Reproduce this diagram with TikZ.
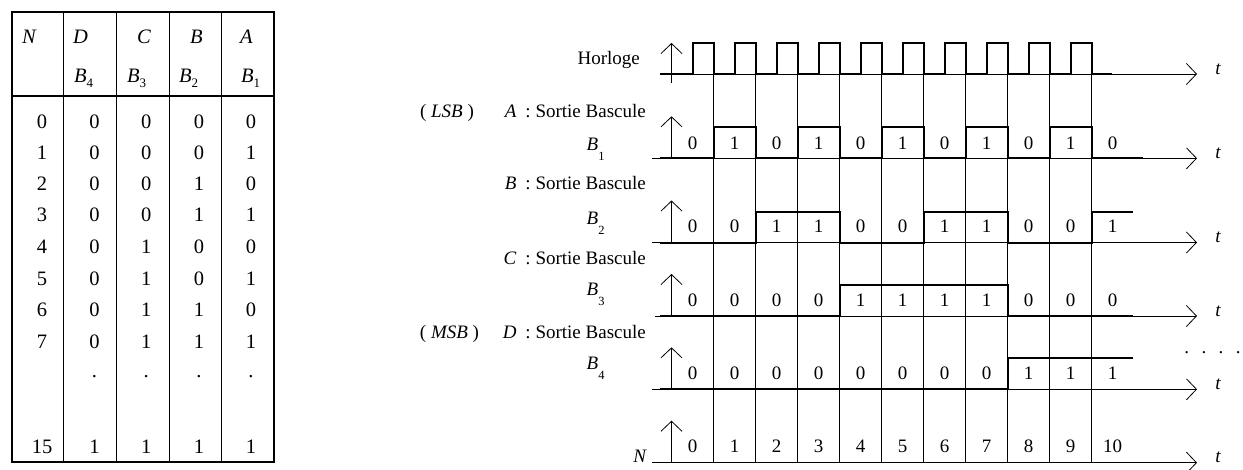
\documentclass[tikz,border=0pt]{standalone}
\usepackage{fontspec}
\setmainfont{Liberation Serif}
\usetikzlibrary{arrows.meta}
\newcommand\tsubl[1]{\raisebox{-10pt}{\fontsize{12.5pt}{13pt}\selectfont #1}}
\newcommand\hsubl[1]{\raisebox{-5pt}{\fontsize{13pt}{14pt}\selectfont #1}}
\tikzset{
  txt/.style={inner sep=0pt, font=\fontsize{19pt}{22pt}\selectfont},
  tabtxt/.style={inner sep=0pt, font=\fontsize{20.5pt}{23pt}\selectfont},
  thinline/.style={line width=0.8pt},
  sigline/.style={line width=2pt, line join=miter},
  axarrow/.style={line width=0.8pt, -{Straight Barb[length=10pt,width=21pt,line width=0.8pt]}},
  gridline/.style={line width=0.8pt},
  tabframe/.style={line width=1.3pt},
}
\begin{document}
\begin{tikzpicture}[x=1pt,y=-1pt]
\useasboundingbox (0,0) rectangle (1243,469);
% ---------------- table ----------------
\draw[tabframe] (12,12) rectangle (274,462);
\draw[tabframe] (12,96) -- (274,96);
\foreach \x in {63,116,169,221} \draw[thinline] (\x,12) -- (\x,462);
\node[tabtxt,anchor=base west] (hN) at (22,43) {\textit{N}};
\node[tabtxt,anchor=base west] (hD) at (73,43) {\textit{D}};
\node[tabtxt,anchor=base west] (hC) at (137,43) {\textit{C}};
\node[tabtxt,anchor=base west] (hB) at (190,43) {\textit{B}};
\node[tabtxt,anchor=base west] (hA) at (240,43) {\textit{A}};
\node[tabtxt,anchor=base west] (hB4) at (74,82.5) {\textit{B}\hsubl{4}};
\node[tabtxt,anchor=base west] (hB3) at (127,82.5) {\textit{B}\hsubl{3}};
\node[tabtxt,anchor=base west] (hB2) at (179,82.5) {\textit{B}\hsubl{2}};
\node[tabtxt,anchor=base west] (hB1) at (241,82.5) {\textit{B}\hsubl{1}};
\foreach \y/\n/\d/\c/\b/\a [count=\i] in
  {121.5/0/0/0/0/0, 153/1/0/0/0/1, 184/2/0/0/1/0, 215/3/0/0/1/1,
   247/4/0/1/0/0, 278.5/5/0/1/0/1, 310/6/0/1/1/0, 342/7/0/1/1/1, 447/15/1/1/1/1}
{
  \node[tabtxt] (tn\i) at (42,\y) {\n};
  \node[tabtxt] (td\i) at (94.5,\y) {\d};
  \node[tabtxt] (tc\i) at (146.3,\y) {\c};
  \node[tabtxt] (tb\i) at (199,\y) {\b};
  \node[tabtxt] (ta\i) at (251,\y) {\a};
}
\foreach \x [count=\i] in {94.5,146.3,199,251}
  \node[tabtxt] (tdot\i) at (\x,377) {.};
% ---------------- timing diagram ----------------
% grid
\foreach \k in {0,...,9}
  \draw[gridline] ({713.5+42*\k},74) -- ({713.5+42*\k},462.7);
% horizontal axes
\foreach \yy/\xs/\nm in {74/660/clk,158.3/652/bone,242.5/652/btwo,316/655/bthree,389.3/652/bfour,462.7/652/nrow}
{
  \coordinate (\nm s) at (\xs,\yy);
  \coordinate (\nm e) at (1197,\yy);
  \draw[axarrow] (\nm s) -- (\nm e);
  \node[txt,anchor=base] (\nm t) at (1218.3,\yy) {\textit{t}};
}
% vertical arrows
\coordinate (va0) at (671.5,83);
\coordinate (vb0) at (671.5,43);
\draw[axarrow] (va0) -- (vb0);
\foreach \yy/\nm in {158.3/1,242.5/2,316/3,389.3/4,462.7/5}
{
  \coordinate (va\nm) at (671.5,\yy);
  \coordinate (vb\nm) at (671.5,\yy-42);
  \draw[axarrow] (va\nm) -- (vb\nm);
}
% clock trace
\draw[sigline] (660,74)
  -- (692.5,74) -- (692.5,42.7) -- (713.5,42.7) -- (713.5,74)
  -- (734.5,74) -- (734.5,42.7) -- (755.5,42.7) -- (755.5,74)
  -- (776.5,74) -- (776.5,42.7) -- (797.5,42.7) -- (797.5,74)
  -- (818.5,74) -- (818.5,42.7) -- (839.5,42.7) -- (839.5,74)
  -- (860.5,74) -- (860.5,42.7) -- (881.5,42.7) -- (881.5,74)
  -- (902.5,74) -- (902.5,42.7) -- (923.5,42.7) -- (923.5,74)
  -- (944.5,74) -- (944.5,42.7) -- (965.5,42.7) -- (965.5,74)
  -- (986.5,74) -- (986.5,42.7) -- (1007.5,42.7) -- (1007.5,74)
  -- (1028.5,74) -- (1028.5,42.7) -- (1049.5,42.7) -- (1049.5,74)
  -- (1070.5,74) -- (1070.5,42.7) -- (1091.5,42.7) -- (1091.5,74)
  -- (1111.7,74);
% B1
\draw[sigline] (660,158.3)
  -- (713.5,158.3) -- (713.5,127.3) -- (755.5,127.3) -- (755.5,158.3)
  -- (797.5,158.3) -- (797.5,127.3) -- (839.5,127.3) -- (839.5,158.3)
  -- (881.5,158.3) -- (881.5,127.3) -- (923.5,127.3) -- (923.5,158.3)
  -- (965.5,158.3) -- (965.5,127.3) -- (1007.5,127.3) -- (1007.5,158.3)
  -- (1049.5,158.3) -- (1049.5,127.3) -- (1091.5,127.3) -- (1091.5,158.3)
  -- (1143.3,158.3);
% B2
\draw[sigline] (660,242.5) -- (755.5,242.5) -- (755.5,211.5) -- (839.5,211.5) -- (839.5,242.5)
   -- (923.5,242.5) -- (923.5,211.5) -- (1007.5,211.5) -- (1007.5,242.5)
   -- (1091.5,242.5) -- (1091.5,211.5) -- (1133.3,211.5);
% B3
\draw[sigline] (660,316) -- (839.5,316) -- (839.5,285) -- (1007.5,285) -- (1007.5,316) -- (1133.3,316);
% B4
\draw[sigline] (660,389.3) -- (1007.5,389.3) -- (1007.5,358.3) -- (1133.3,358.3);
% cell values
\foreach \v [count=\k from 0] in {0,1,0,1,0,1,0,1,0,1,0}
  \node[txt] (vone\k) at ({692.5+42*\k},143.5) {\v};
\foreach \v [count=\k from 0] in {0,0,1,1,0,0,1,1,0,0,1}
  \node[txt] (vtwo\k) at ({692.5+42*\k},226.5) {\v};
\foreach \v [count=\k from 0] in {0,0,0,0,1,1,1,1,0,0,0}
  \node[txt] (vthree\k) at ({692.5+42*\k},300) {\v};
\foreach \v [count=\k from 0] in {0,0,0,0,0,0,0,0,1,1,1}
  \node[txt] (vfour\k) at ({692.5+42*\k},373.3) {\v};
\foreach \v [count=\k from 0] in {0,1,2,3,4,5,6,7,8,9,10}
  \node[txt] (vn\k) at ({692.5+42*\k},446.7) {\v};
% left labels
\node[txt,anchor=base east] (horloge) at (640,64.6) {Horloge};
\node[txt,anchor=base] (lsb) at (447,117.5) {( \textit{LSB} )};
\node[txt,anchor=base east] (sa) at (646,117.5) {\textit{A}\hspace{9pt}: Sortie Bascule};
\node[txt,anchor=base west] (lb1) at (586.5,150) {\textit{B}\tsubl{1}};
\node[txt,anchor=base east] (sb) at (646,189.6) {\textit{B}\hspace{9pt}: Sortie Bascule};
\node[txt,anchor=base west] (lb2) at (586.5,224) {\textit{B}\tsubl{2}};
\node[txt,anchor=base east] (sc) at (646,264.6) {\textit{C}\hspace{9pt}: Sortie Bascule};
\node[txt,anchor=base west] (lb3) at (586.5,295.5) {\textit{B}\tsubl{3}};
\node[txt,anchor=base] (msb) at (449.5,338) {( \textit{MSB} )};
\node[txt,anchor=base east] (sd) at (646,338) {\textit{D}\hspace{9pt}: Sortie Bascule};
\node[txt,anchor=base west] (lb4) at (586.5,369) {\textit{B}\tsubl{4}};
\node[txt,anchor=base east] (ln) at (647,462) {\textit{N}};
% continuation dots
\foreach \x [count=\i] in {1186.7,1204,1221,1238.3}
  \node[txt] (cdot\i) at (\x,352.5) {.};
\end{tikzpicture}
\end{document}
